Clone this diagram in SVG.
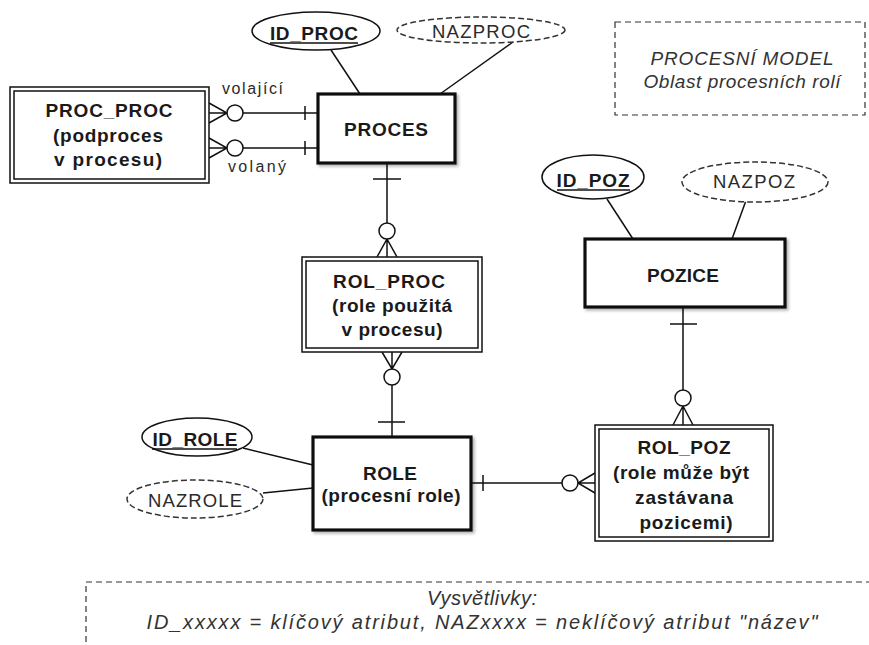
<svg xmlns="http://www.w3.org/2000/svg" width="869" height="645" viewBox="0 0 869 645">
<style>
text{font-family:"Liberation Sans",Arial,sans-serif;fill:#1a1a1a}
.b{font-weight:bold;font-size:19px}
.r{font-size:18.5px;fill:#2a2a2a}
.v{font-size:16px;fill:#2a2a2a}
.i{font-style:italic;font-size:19px;fill:#333}
.l{font-style:italic;font-size:20px;fill:#333}
.m{text-anchor:middle}
.ent{fill:#fff;stroke:#111;stroke-width:3.2}
.dbl{fill:#fff;stroke:#111;stroke-width:1.5}
.key{fill:#fff;stroke:#111;stroke-width:1.5}
.nkey{fill:#fff;stroke:#333;stroke-width:1.5;stroke-dasharray:6 3}
.ul{stroke:#111;stroke-width:1.5}
.c{fill:none;stroke:#111;stroke-width:1.5}
.o{fill:#fff;stroke:#111;stroke-width:1.5}
.box{fill:none;stroke:#333;stroke-width:1.2;stroke-dasharray:6 4}
</style>
<defs>
<filter id="sh" x="-10%" y="-10%" width="130%" height="130%">
<feDropShadow dx="2" dy="2" stdDeviation="1.5" flood-color="#000" flood-opacity="0.3"/>
</filter>
</defs>
<rect width="869" height="645" fill="#fff"/>

<g id="connectors">
<path class="c" d="M331 50 L360 94"/>
<path class="c" d="M513 42 L440 94"/>
<path class="c" d="M607 199 L633 239"/>
<path class="c" d="M748 195 L732 239"/>
<path class="c" d="M243 448 L313 465"/>
<path class="c" d="M263 493 L313 488"/>
<path class="c" d="M209 103 L227 113 L209 123 M209 113 L227 113 M243 113 L318 113 M305 106 L305 120"/>
<circle class="o" cx="235" cy="113" r="8"/>
<path class="c" d="M209 138 L227 148 L209 158 M209 148 L227 148 M243 148 L318 148 M305 141 L305 155"/>
<circle class="o" cx="235" cy="148" r="8"/>
<path class="c" d="M387 163 L387 223 M373 179 L401 179 M377 257 L387 239 L397 257 M387 239 L387 257"/>
<circle class="o" cx="387" cy="231" r="8"/>
<path class="c" d="M382 352 L392 369 L402 352 M392 352 L392 369 M392 385 L392 437 M378 422 L405 422"/>
<circle class="o" cx="392" cy="377" r="8"/>
<path class="c" d="M471 483 L562 483 M483 475 L483 491 M595 473 L578 483 L595 493 M578 483 L595 483"/>
<circle class="o" cx="570" cy="483" r="8"/>
<path class="c" d="M683 307 L683 390 M670 324 L697 324 M673 425 L683 406 L693 425 M683 406 L683 425"/>
<circle class="o" cx="683" cy="398" r="8"/>
<text class="v" x="222" y="94" textLength="61" lengthAdjust="spacing">volající</text>
<text class="v" x="228" y="172" textLength="58" lengthAdjust="spacing">volaný</text>
</g>

<g id="id_proc">
<ellipse class="key" cx="316" cy="31" rx="64" ry="19"/>
<text class="b m" x="314" y="40" textLength="88" lengthAdjust="spacing">ID_PROC</text>
<line class="ul" x1="270" y1="43" x2="358" y2="43"/>
</g>
<g id="nazproc">
<ellipse class="nkey" cx="481" cy="30" rx="84" ry="13"/>
<text class="r m" x="481" y="38" textLength="98" lengthAdjust="spacing">NAZPROC</text>
</g>

<g id="proces">
<rect class="ent" x="318" y="94" width="137" height="69" filter="url(#sh)"/>
<text class="b m" x="386" y="136" textLength="84" lengthAdjust="spacing">PROCES</text>
</g>

<g id="proc_proc">
<rect class="dbl" x="10" y="87" width="199" height="96"/>
<rect class="dbl" x="14" y="91" width="191" height="88"/>
<text class="b m" x="109" y="117" textLength="127" lengthAdjust="spacing">PROC_PROC</text>
<text class="b m" x="108" y="142" textLength="110" lengthAdjust="spacing">(podproces</text>
<text class="b m" x="108" y="166" textLength="108" lengthAdjust="spacing">v procesu)</text>
</g>

<g id="rol_proc">
<rect class="dbl" x="302" y="257" width="180" height="95"/>
<rect class="dbl" x="306" y="261" width="172" height="87"/>
<text class="b m" x="389" y="288" textLength="112" lengthAdjust="spacing">ROL_PROC</text>
<text class="b m" x="392" y="312" textLength="120" lengthAdjust="spacing">(role použitá</text>
<text class="b m" x="392" y="336" textLength="101" lengthAdjust="spacing">v procesu)</text>
</g>

<g id="role">
<rect class="ent" x="313" y="437" width="158" height="93" filter="url(#sh)"/>
<text class="b m" x="390" y="480" textLength="54" lengthAdjust="spacing">ROLE</text>
<text class="b m" x="391" y="502" textLength="139" lengthAdjust="spacing">(procesní role)</text>
</g>

<g id="id_role">
<ellipse class="key" cx="197" cy="437" rx="55" ry="19"/>
<text class="b m" x="195" y="446" textLength="85" lengthAdjust="spacing">ID_ROLE</text>
<line class="ul" x1="152" y1="449" x2="237" y2="449"/>
</g>
<g id="nazrole">
<ellipse class="nkey" cx="195" cy="499" rx="68" ry="19"/>
<text class="r m" x="195" y="507" textLength="94" lengthAdjust="spacing">NAZROLE</text>
</g>

<g id="pozice">
<rect class="ent" x="585" y="239" width="200" height="68" filter="url(#sh)"/>
<text class="b m" x="683" y="282" textLength="72" lengthAdjust="spacing">POZICE</text>
</g>
<g id="id_poz">
<ellipse class="key" cx="593" cy="177" rx="51" ry="22"/>
<text class="b m" x="593" y="187" textLength="73" lengthAdjust="spacing">ID_POZ</text>
<line class="ul" x1="557" y1="190" x2="630" y2="190"/>
</g>
<g id="nazpoz">
<ellipse class="nkey" cx="755" cy="182" rx="73" ry="20"/>
<text class="r m" x="754" y="188" textLength="82" lengthAdjust="spacing">NAZPOZ</text>
</g>

<g id="rol_poz">
<rect class="dbl" x="595" y="425" width="178" height="116"/>
<rect class="dbl" x="599" y="429" width="170" height="108"/>
<text class="b m" x="684" y="454" textLength="93" lengthAdjust="spacing">ROL_POZ</text>
<text class="b m" x="681" y="479" textLength="136" lengthAdjust="spacing">(role může být</text>
<text class="b m" x="684" y="504" textLength="98" lengthAdjust="spacing">zastávana</text>
<text class="b m" x="686" y="529" textLength="93" lengthAdjust="spacing">pozicemi)</text>
</g>

<g id="title">
<rect class="box" x="615" y="22" width="250" height="93"/>
<text class="i m" x="742" y="65" textLength="183" lengthAdjust="spacing">PROCESNÍ MODEL</text>
<text class="i m" x="742" y="88" textLength="197" lengthAdjust="spacing">Oblast procesních rolí</text>
</g>

<g id="legend">
<rect class="box" x="86" y="582" width="800" height="80"/>
<text class="l m" x="482" y="605" textLength="110" lengthAdjust="spacing">Vysvětlivky:</text>
<text class="l m" x="482" y="629" textLength="671" lengthAdjust="spacing">ID_xxxxx = klíčový atribut,  NAZxxxx = neklíčový atribut "název"</text>
</g>
</svg>
